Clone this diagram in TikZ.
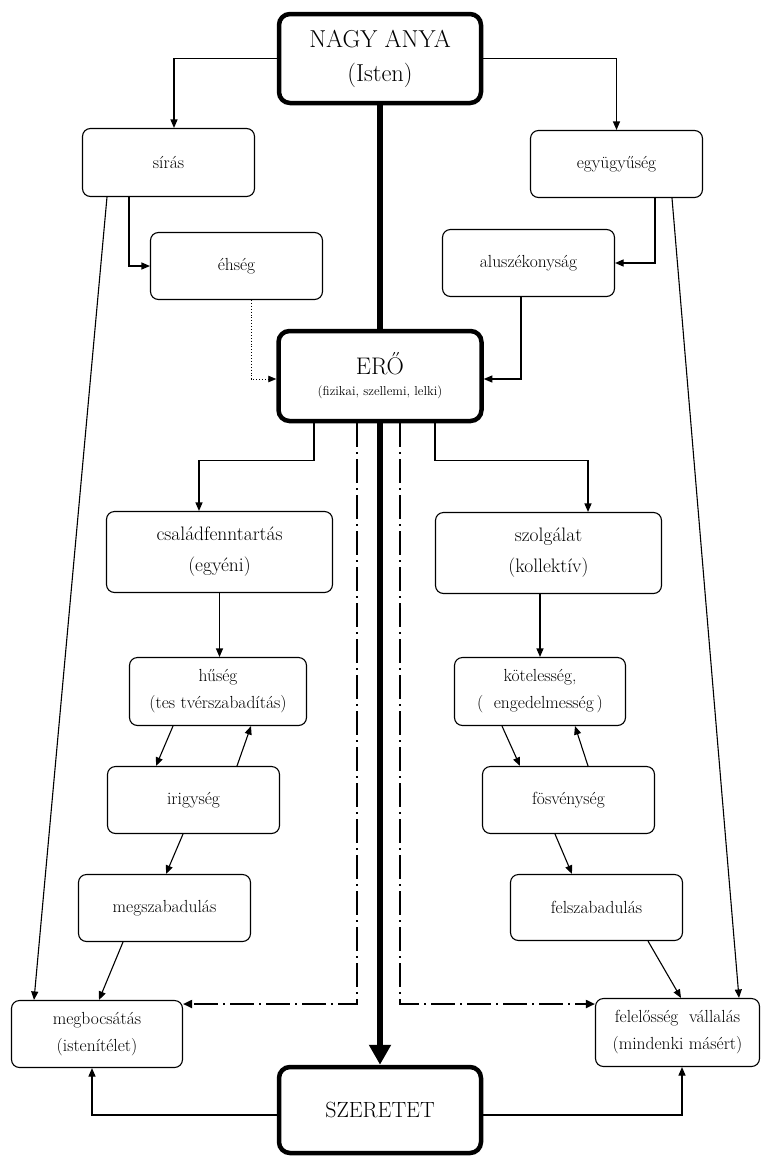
\documentclass[tikz,border=0pt]{standalone}
\usetikzlibrary{arrows.meta,calc}
\begin{document}
\begin{tikzpicture}[x=1pt,y=-1pt,
  box/.style={draw, rounded corners=8pt, line width=1.1pt, align=center, inner sep=0pt,
    font=\fontsize{17.5}{27}\selectfont},
  bigbox/.style={draw, rounded corners=11pt, line width=4.5pt, align=center, inner sep=0pt},
  arr/.style={line width=1.1pt, -{Triangle[length=8.5pt,width=7pt]}},
  dotarr/.style={line width=0.9pt, dotted, -{Triangle[length=8pt,width=6.5pt]}},
  dasharr/.style={line width=1.8pt, dash pattern=on 24pt off 5pt on 2pt off 5pt, -{Triangle[length=9pt,width=8pt]}},
  thickline/.style={line width=6pt},
  thickarr/.style={line width=6pt, -{Triangle[length=20pt,width=21pt]}}
]
\useasboundingbox (0,0) rectangle (762,1157);

% main boxes
\node[bigbox, minimum width=202pt, minimum height=89pt, font=\fontsize{24.5}{34}\selectfont] (nagy) at (380,58.5) {NAGY ANYA\\(Isten)};
\node[bigbox, minimum width=203pt, minimum height=90pt] (ero) at (380,376) {{\fontsize{24}{24}\selectfont ERŐ}\\[9pt]{\fontsize{13}{13}\selectfont (fizikai, szellemi, lelki)}};
\node[bigbox, minimum width=202pt, minimum height=86pt, font=\fontsize{22}{22}\selectfont] (szer) at (380,1110) {SZERETET};

% upper boxes
\node[box, minimum width=172pt, minimum height=68pt] (siras) at (168.5,162.5) {sírás};
\node[box, minimum width=172pt, minimum height=67pt] (egyugy) at (616.5,164) {együgyűség};
\node[box, minimum width=172pt, minimum height=67pt] (ehseg) at (236.5,266) {éhség};
\node[box, minimum width=172pt, minimum height=67pt] (alusz) at (528.5,263) {aluszékonyság};

% middle boxes
\node[box, minimum width=226pt, minimum height=81pt, font=\fontsize{19.5}{31}\selectfont] (csalad) at (219.5,552) {családfenntartás\\(egyéni)};
\node[box, minimum width=226pt, minimum height=81pt, font=\fontsize{19.5}{31}\selectfont] (szolg) at (548.5,553) {szolgálat\\(kollektív)};
\node[box, minimum width=177pt, minimum height=68pt] (huseg) at (218,691.5) {hűség\\(tes tvérszabadítás)};
\node[box, minimum width=171pt, minimum height=68pt] (kotel) at (540,691.5) {kötelesség,\\(~~engedelmesség\,)};
\node[box, minimum width=172pt, minimum height=67pt] (irigy) at (193.5,800) {irigység};
\node[box, minimum width=172pt, minimum height=67pt] (fosv) at (568.5,800) {fösvénység};
\node[box, minimum width=172pt, minimum height=67pt] (megsz) at (164.5,908) {megszabadulás};
\node[box, minimum width=172pt, minimum height=66pt] (felsz) at (596.5,907.5) {felszabadulás};

% bottom boxes
\node[box, minimum width=171pt, minimum height=67pt] (megb) at (97,1034) {megbocsátás\\(istenítélet)};
\node[box, minimum width=164pt, minimum height=68pt] (felel) at (677.5,1032.5) {felelősség~~vállalás\\(mindenki másért)};

% connectors from NAGY ANYA
\draw[arr] (nagy.west) -| ([xshift=5.5pt]siras.north);
\draw[arr] (nagy.east) -| (egyugy.north);
\draw[thickline] (nagy.south) -- (ero.north);

\draw[arr] ([xshift=-39.5pt]siras.south) |- (ehseg.west);
\draw[arr] ([xshift=38.5pt]egyugy.south) |- (alusz.east);
\draw[arr] ([xshift=-61.5pt]siras.south) -- ([xshift=-63pt]megb.north);
\draw[arr] ([xshift=55.5pt]egyugy.south) -- ([xshift=61.5pt]felel.north);

\draw[dotarr] ([xshift=14.5pt]ehseg.south) |- ([yshift=-3pt]ero.west);
\draw[arr] ([xshift=-7.5pt]alusz.south) |- ([yshift=-3pt]ero.east);

% from ERŐ
\draw[arr] ([xshift=-66pt]ero.south) -- ++(0,37) -| ([xshift=-20.5pt]csalad.north);
\draw[arr] ([xshift=55pt]ero.south) -- ++(0,37) -| ([xshift=39.5pt]szolg.north);
\draw[thickarr] (ero.south) -- (szer.north);
\draw[dasharr] ([xshift=-23pt]ero.south) |- ([yshift=30pt]megb.east);
\draw[dasharr] ([xshift=20pt]ero.south) |- ([yshift=28.5pt]felel.west);

% left chain
\draw[arr] (csalad.south) -- (csalad.south |- huseg.north);
\draw[arr] ([xshift=-45pt]huseg.south) -- ([xshift=-37.5pt]irigy.north);
\draw[arr] ([xshift=43.5pt]irigy.north) -- ([xshift=33pt]huseg.south);
\draw[arr] ([xshift=-10.5pt]irigy.south) -- ([xshift=1.5pt]megsz.north);
\draw[arr] ([xshift=-41.5pt]megsz.south) -- ([xshift=2pt]megb.north);

% right chain
\draw[arr] (kotel.north |- szolg.south) -- (kotel.north);
\draw[arr] ([xshift=-38pt]kotel.south) -- ([xshift=-48.5pt]fosv.north);
\draw[arr] ([xshift=19.5pt]fosv.north) -- ([xshift=35pt]kotel.south);
\draw[arr] ([xshift=-13.5pt]fosv.south) -- ([xshift=-24.5pt]felsz.north);
\draw[arr] ([xshift=51.5pt]felsz.south) -- ([xshift=3.5pt]felel.north);

% from SZERETET
\draw[arr] ([yshift=-5pt]szer.west) -| ([xshift=-5pt]megb.south);
\draw[arr] ([yshift=-5pt]szer.east) -| ([xshift=4.5pt]felel.south);
\end{tikzpicture}
\end{document}
